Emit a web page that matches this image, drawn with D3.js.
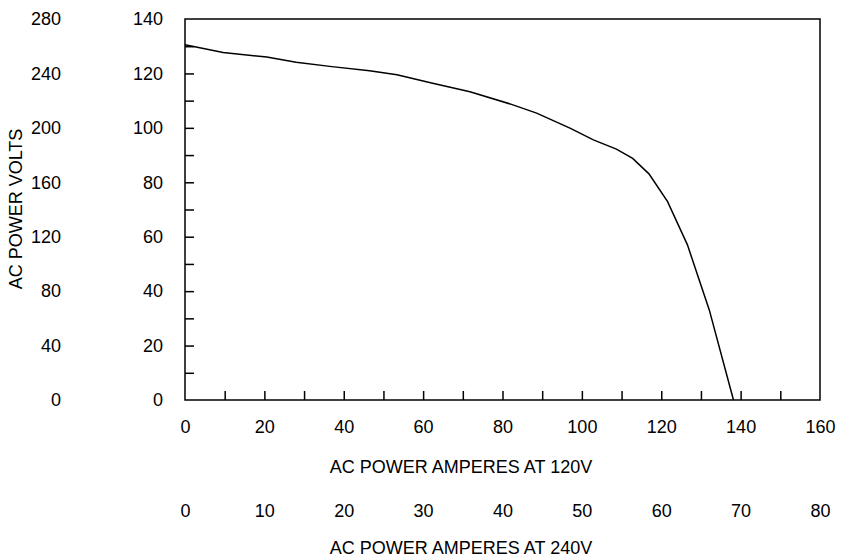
<!DOCTYPE html>
<html>
<head>
<meta charset="utf-8">
<script src="https://cdn.jsdelivr.net/npm/d3@7"></script>
<style>
  body { margin: 0; background: #fff; }
  svg text { font-family: "Liberation Sans", Arial, sans-serif; font-size: 18px; fill: #000; }
</style>
</head>
<body>
<svg id="chart" width="842" height="560"></svg>
<script>
// courbe (amperes a 120V, volts echelle 0-140)
var amperes = [0, 9.6, 20.6, 28, 37, 46.5, 53.4, 62.4, 71.8, 81.9, 88.6, 97, 102.9, 108.7, 112.8, 116.9, 121.6, 126.6, 132.1, 138.2];
var volts = [130.5, 127.7, 126, 124.1, 122.5, 121, 119.5, 116.4, 113.3, 108.8, 105.4, 99.9, 95.6, 92.2, 88.8, 83.1, 72.9, 57, 33.1, 0];

var xLabels120 = [0, 20, 40, 60, 80, 100, 120, 140, 160];
var xLabels240 = [0, 10, 20, 30, 40, 50, 60, 70, 80];
var yLabels = [0, 20, 40, 60, 80, 100, 120, 140];
var yLabelsOuter = [0, 40, 80, 120, 160, 200, 240, 280];
var xMinor = [10, 20, 30, 40, 50, 60, 70, 80, 90, 100, 110, 120, 130, 140, 150];
var yMinor = [10, 20, 30, 40, 50, 60, 70, 80, 90, 100, 110, 120, 130];

var marge = {haut: 19, droite: 22, bas: 160, gauche: 185};
var largeur = 842, hauteur = 560;

var svg = d3.select("#chart");

var xScale = d3.scaleLinear().domain([0, 160]).range([marge.gauche, largeur - marge.droite]);
var x240 = d3.scaleLinear().domain([0, 80]).range([marge.gauche, largeur - marge.droite]);
var yScale = d3.scaleLinear().domain([0, 140]).range([hauteur - marge.bas, marge.haut]);
var yOuter = d3.scaleLinear().domain([0, 280]).range([hauteur - marge.bas, marge.haut]);

var bas = hauteur - marge.bas;

// petites graduations vers l'interieur
svg.append("g")
    .attr("transform", `translate(0,${bas})`)
    .call(d3.axisTop(xScale).tickValues(xMinor).tickSize(9).tickFormat(""))
    .call(g => g.select(".domain").remove())
    .selectAll("line").attr("stroke", "#000").attr("stroke-width", 1.5);

svg.append("g")
    .attr("transform", `translate(${marge.gauche},0)`)
    .call(d3.axisRight(yScale).tickValues(yMinor).tickSize(9).tickFormat(""))
    .call(g => g.select(".domain").remove())
    .selectAll("line").attr("stroke", "#000").attr("stroke-width", 1.5);

// etiquettes
svg.append("g")
    .attr("transform", `translate(0,${bas})`)
    .call(d3.axisBottom(xScale).tickValues(xLabels120).tickSize(0).tickPadding(20))
    .call(g => g.select(".domain").remove())
    .call(g => g.selectAll("text").attr("font-size", null));

svg.append("g")
    .attr("transform", `translate(0,${bas})`)
    .call(d3.axisBottom(x240).tickValues(xLabels240).tickSize(0).tickPadding(104))
    .call(g => g.select(".domain").remove())
    .call(g => g.selectAll("text").attr("font-size", null));

svg.append("g")
    .attr("transform", `translate(${marge.gauche},0)`)
    .call(d3.axisLeft(yScale).tickValues(yLabels).tickSize(0).tickPadding(22))
    .call(g => g.select(".domain").remove())
    .call(g => g.selectAll("text").attr("font-size", null));

svg.append("g")
    .attr("transform", `translate(${marge.gauche},0)`)
    .call(d3.axisLeft(yOuter).tickValues(yLabelsOuter).tickSize(0).tickPadding(124))
    .call(g => g.select(".domain").remove())
    .call(g => g.selectAll("text").attr("font-size", null));

// cadre
svg.append("rect")
    .attr("x", marge.gauche)
    .attr("y", marge.haut)
    .attr("width", largeur - marge.droite - marge.gauche)
    .attr("height", bas - marge.haut)
    .attr("fill", "none")
    .attr("stroke", "#000")
    .attr("stroke-width", 1.5);

// courbe
var ligne = d3.line()
    .x((d, i) => xScale(amperes[i]))
    .y(d => yScale(d));

svg.append("path")
    .datum(volts)
    .attr("d", ligne)
    .attr("fill", "none")
    .attr("stroke", "#000")
    .attr("stroke-width", 1.5);

// titres
svg.append("text")
    .attr("x", 461)
    .attr("y", 473)
    .style("text-anchor", "middle")
    .text("AC POWER AMPERES AT 120V");

svg.append("text")
    .attr("x", 461)
    .attr("y", 554)
    .style("text-anchor", "middle")
    .text("AC POWER AMPERES AT 240V");

svg.append("text")
    .attr("transform", "translate(22,209) rotate(-90)")
    .style("text-anchor", "middle")
    .text("AC POWER VOLTS");
</script>
</body>
</html>
